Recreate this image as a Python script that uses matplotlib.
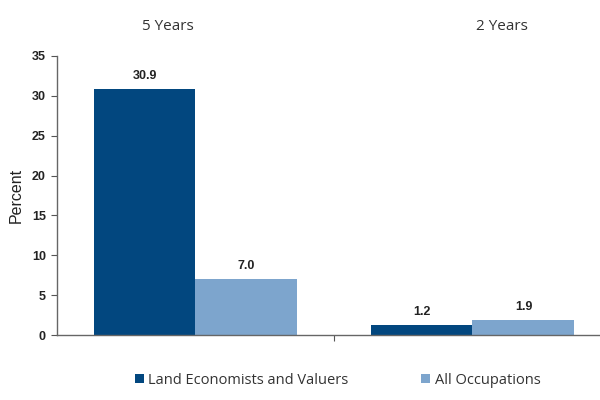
import matplotlib
matplotlib.use("Agg")
import matplotlib.pyplot as plt
import numpy as np

groups = ["5 Years", "2 Years"]
series = ["Land Economists and Valuers", "All Occupations"]
land = [30.9, 1.2]
allocc = [7.0, 1.9]
colors = ["#02477F", "#7DA5CD"]

fig = plt.figure(figsize=(6, 4), dpi=100)
ax = fig.add_axes([57 / 600, 1 - 335 / 400, 1 - 57 / 600, (335 - 56) / 400])

x = np.arange(len(groups))
w = 0.368
b1 = ax.bar(x - w / 2, land, w, color=colors[0], label=series[0])
b2 = ax.bar(x + w / 2, allocc, w, color=colors[1], label=series[1])

for bars in (b1, b2):
    for r in bars:
        ax.annotate("{:.1f}".format(r.get_height()),
                    (r.get_x() + r.get_width() / 2, r.get_height()),
                    xytext=(0, 5), textcoords="offset points",
                    ha="center", va="bottom", fontsize=9, fontweight="bold",
                    family="Liberation Sans", color="#222222")

ax.set_xlim(-0.5, -0.5 + 543 / 277)
ax.set_ylim(0, 35)
ax.set_yticks(np.arange(0, 36, 5))
for lab in ax.get_yticklabels():
    lab.set_fontweight("bold")
    lab.set_family("Liberation Sans")
ax.tick_params(axis="y", labelsize=9, length=4, direction="out", colors="#555555",
               labelcolor="#222222", pad=4)
ax.set_xticks([0.5])
ax.set_xticklabels([""])
ax.tick_params(axis="x", length=4, direction="out", colors="#555555")
ax.set_ylabel("Percent", fontsize=11.5, family="Liberation Sans", color="#222222", labelpad=6)

for s in ["top", "right"]:
    ax.spines[s].set_visible(False)
for s in ["left", "bottom"]:
    ax.spines[s].set_color("#666666")
    ax.spines[s].set_linewidth(1.0)

# group titles along the top
fig.text(168 / 600, 1 - 27 / 400, groups[0], ha="center", va="center",
         fontsize=11, family="Open Sans", color="#333333")
fig.text(502 / 600, 1 - 27 / 400, groups[1], ha="center", va="center",
         fontsize=11, family="Open Sans", color="#333333")

leg = fig.legend(loc="center left", bbox_to_anchor=(122 / 600, 1 - 380 / 400), ncol=2,
                 frameon=False, handlelength=0.6, handleheight=0.6, handletextpad=0.3,
                 columnspacing=5.0, prop={"family": "Open Sans", "size": 10.5})
for t in leg.get_texts():
    t.set_color("#333333")

fig.savefig("out.png", dpi=100)
